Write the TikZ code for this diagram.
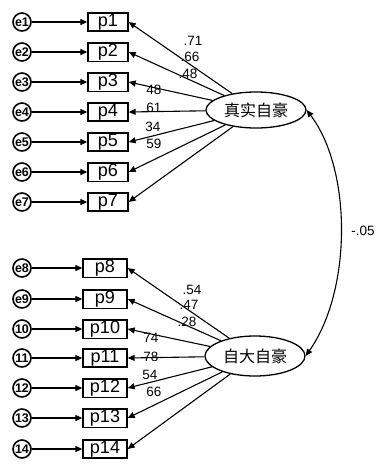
\documentclass[tikz,border=0pt]{standalone}
\usepackage{fontspec}
\setmainfont{Liberation Sans}
\newfontfamily\cjk{Noto Sans CJK SC}
\usetikzlibrary{arrows.meta,shapes.geometric}
\begin{document}
\begin{tikzpicture}[x=1pt,y=-1pt,
  errc/.style={circle,draw,line width=1.6pt,minimum size=18pt,inner sep=0pt,font=\fontsize{12.5}{12}\selectfont\bfseries},
  obs/.style={rectangle,draw,line width=1.3pt,minimum height=18pt,inner sep=1pt,font=\fontsize{18}{18}\selectfont},
  lat/.style={ellipse,draw,line width=1.3pt,minimum width=100pt,minimum height=36pt,inner sep=0pt,font=\cjk\fontsize{16}{16}\selectfont},
  arr/.style={-{Triangle[length=7pt,width=6pt]},line width=1.1pt},
  lab/.style={font=\fontsize{13.5}{13.5}\selectfont,inner sep=0pt}]
\useasboundingbox (0,0) rectangle (378,467);
% upper block
\foreach \i/\y in {1/22,2/52,3/82,4/112,5/142,6/172,7/202}{
  \node[errc] (e\i) at (22,\y) {e\i};
  \node[obs,minimum width=40pt] (p\i) at (108,\y) {p\i};
  \draw[arr] (e\i) -- (p\i);
}
\node[lat] (F1) at (256,110) {真实自豪};
\foreach \i in {1,...,7}{\draw[arr] (F1) -- (p\i.east);}
% lower block
\foreach \i/\y/\t in {8/268/e8,9/299/e9,10/329/10,11/358/11,12/388/12,13/418/13,14/449/14}{
  \node[errc] (e\i) at (22,\y) {\t};
  \node[obs,minimum width=44pt] (p\i) at (105,\y) {p\i};
  \draw[arr] (e\i) -- (p\i);
}
\node[lat,minimum height=40pt] (F2) at (255,356) {自大自豪};
\foreach \i in {8,...,14}{\draw[arr] (F2) -- (p\i.east);}
% correlation
\draw[{Triangle[length=7pt,width=6pt]}-{Triangle[length=7pt,width=6pt]},line width=1.1pt]
  (F1.east) .. controls (352,170) and (352,290) .. (F2.east);
\node[lab] (r) at (363,231) {-.05};
% loadings upper
\node[lab] (l1) at (193,41) {.71};
\node[lab] (l2) at (190,57) {.66};
\node[lab] (l3) at (188,74) {.48};
\node[lab] (l4) at (154,90) {48};
\node[lab] (l5) at (154,108) {61};
\node[lab] (l6) at (153,127) {34};
\node[lab] (l7) at (154,144) {59};
% loadings lower
\node[lab] (m1) at (192,290) {.54};
\node[lab] (m2) at (189,305) {.47};
\node[lab] (m3) at (187,322) {.28};
\node[lab] (m4) at (151,338) {74};
\node[lab] (m5) at (151,357) {78};
\node[lab] (m6) at (150,375) {54};
\node[lab] (m7) at (154,392) {66};
\end{tikzpicture}
\end{document}
